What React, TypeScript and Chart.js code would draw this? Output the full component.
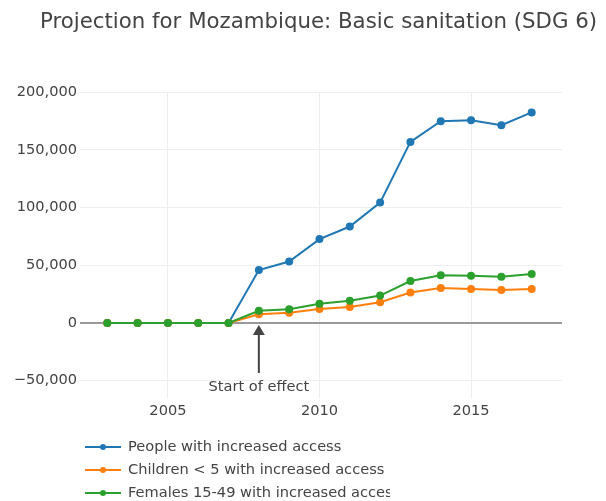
import React, { useEffect, useRef } from "react";
import { Chart, registerables } from "chart.js";

Chart.register(...registerables);

const years = [2003, 2004, 2005, 2006, 2007, 2008, 2009, 2010, 2011, 2012, 2013, 2014, 2015, 2016, 2017];
const people = [0, 0, 0, 0, 0, 45800, 53200, 72600, 83500, 104200, 156800, 174700, 175600, 171300, 182300];
const children = [0, 0, 0, 0, 0, 7600, 8900, 12100, 13900, 17900, 26300, 30300, 29500, 28600, 29500];
const females = [0, 0, 0, 0, 0, 10600, 11800, 16700, 19300, 23700, 36300, 41200, 40900, 40100, 42400];
const seriesNames = [
  "People with increased access",
  "Children < 5 with increased access",
  "Females 15-49 with increased access",
];
const seriesColors = ["#1f77b4", "#ff7f0e", "#2ca02c"];
const xTicks = [2005, 2010, 2015];
const yTicks = [-50000, 0, 50000, 100000, 150000, 200000];
const titleText = "Projection for Mozambique: Basic sanitation (SDG 6)";
const annotationYear = 2008;
const annotationText = "Start of effect";

const FONT = "'DejaVu Sans', Verdana, sans-serif";
const TEXT = "#444";
const SMALL = 14.6;

const extras = {
  id: "extras",
  afterDraw(chart: any) {
    const ctx = chart.ctx;
    const xs = chart.scales.x;
    const ys = chart.scales.y;
    ctx.save();
    // title
    ctx.fillStyle = TEXT;
    ctx.font = `21.3px ${FONT}`;
    ctx.textAlign = "left";
    ctx.textBaseline = "middle";
    ctx.fillText(titleText, 40, 22);

    // annotation arrow
    const ax = xs.getPixelForValue(annotationYear);
    const ay = ys.getPixelForValue(0) + 2;
    ctx.strokeStyle = TEXT;
    ctx.fillStyle = TEXT;
    ctx.lineWidth = 2;
    ctx.beginPath();
    ctx.moveTo(ax, ay + 8);
    ctx.lineTo(ax, ay + 48);
    ctx.stroke();
    ctx.beginPath();
    ctx.moveTo(ax, ay);
    ctx.lineTo(ax - 6, ay + 10);
    ctx.lineTo(ax + 6, ay + 10);
    ctx.closePath();
    ctx.fill();
    ctx.font = `${SMALL}px ${FONT}`;
    ctx.textAlign = "center";
    ctx.textBaseline = "middle";
    ctx.fillText(annotationText, ax, ay + 62);

    // legend
    ctx.beginPath();
    ctx.rect(0, 430, 390, 80);
    ctx.clip();
    chart.data.datasets.forEach((ds: any, i: number) => {
      const y = 447 + i * 23;
      ctx.strokeStyle = ds.borderColor;
      ctx.lineWidth = 2;
      ctx.beginPath();
      ctx.moveTo(85, y);
      ctx.lineTo(121, y);
      ctx.stroke();
      ctx.fillStyle = ds.borderColor;
      ctx.beginPath();
      ctx.arc(103, y, 3, 0, Math.PI * 2);
      ctx.fill();
      ctx.fillStyle = TEXT;
      ctx.font = `${SMALL}px ${FONT}`;
      ctx.textAlign = "left";
      ctx.textBaseline = "middle";
      ctx.fillText(ds.label, 128, y);
    });
    ctx.restore();
  },
};

export default function App() {
  const ref = useRef<HTMLCanvasElement>(null);
  useEffect(() => {
    if (!ref.current) return;
    const values = [people, children, females];
    const chart = new Chart(ref.current, {
      type: "line",
      data: {
        datasets: values.map((vals, i) => ({
          label: seriesNames[i],
          data: years.map((yr, j) => ({ x: yr, y: vals[j] })),
          borderColor: seriesColors[i],
          backgroundColor: seriesColors[i],
          borderWidth: 2,
          pointRadius: 4,
          pointHoverRadius: 4,
          pointBorderWidth: 0,
          tension: 0,
          order: 2 - i,
        })),
      },
      options: {
        animation: false,
        responsive: false,
        maintainAspectRatio: false,
        layout: { padding: { left: 0, right: 44, top: 92, bottom: 0 } },
        plugins: {
          legend: { display: false },
          title: { display: false },
          tooltip: { enabled: false },
        },
        scales: {
          x: {
            type: "linear",
            min: 2002.1,
            max: 2018,
            border: { display: false },
            grid: { color: "#eeeeee", lineWidth: 1, drawTicks: false },
            afterBuildTicks: (s: any) => {
              s.ticks = xTicks.map((v) => ({ value: v }));
            },
            afterFit: (s: any) => {
              s.height = 103;
            },
            ticks: {
              padding: 4,
              color: TEXT,
              font: { family: FONT, size: SMALL },
              callback: (v: any) => String(v),
            },
          },
          y: {
            type: "linear",
            min: -65000,
            max: 200000,
            border: { display: false },
            grid: {
              drawTicks: false,
              color: (c: any) => (c.tick && c.tick.value === 0 ? "#999999" : "#eeeeee"),
              lineWidth: (c: any) => (c.tick && c.tick.value === 0 ? 2 : 1),
            },
            afterBuildTicks: (s: any) => {
              s.ticks = yTicks.map((v) => ({ value: v }));
            },
            afterFit: (s: any) => {
              s.width = 80;
            },
            ticks: {
              padding: 3,
              color: TEXT,
              font: { family: FONT, size: SMALL },
              callback: (v: any) =>
                (v < 0 ? "\u2212" : "") + Math.abs(v).toLocaleString("en-US"),
            },
          },
        },
      },
      plugins: [extras],
    });
    return () => chart.destroy();
  }, []);
  return (
    <div style={{ position: "absolute", left: 0, top: 0, width: 606, height: 501, background: "#fff" }}>
      <canvas ref={ref} width={606} height={501} style={{ display: "block" }} />
    </div>
  );
}
